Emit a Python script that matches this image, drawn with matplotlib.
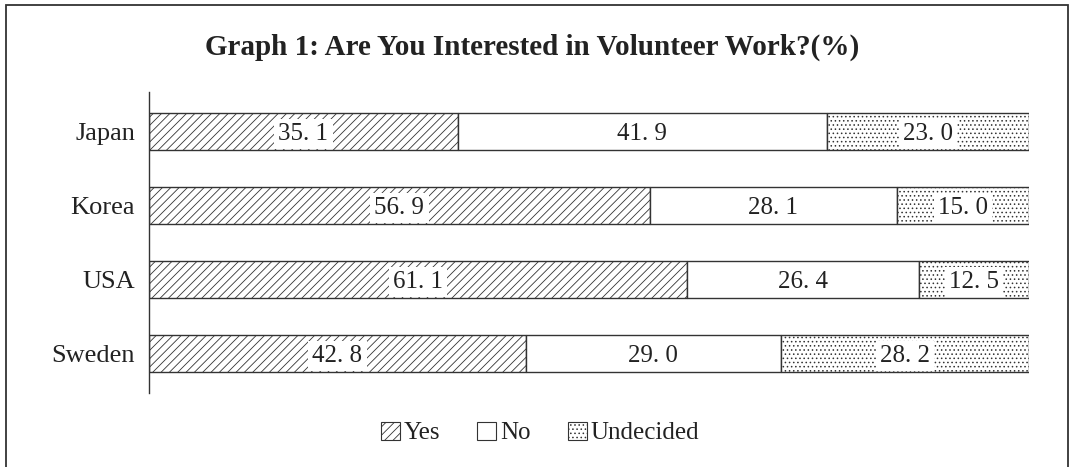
import matplotlib
matplotlib.use("Agg")
import matplotlib.pyplot as plt
from matplotlib.patches import Patch, Rectangle

countries = ["Japan", "Korea", "USA", "Sweden"]
yes = [35.1, 56.9, 61.1, 42.8]
no = [41.9, 28.1, 26.4, 29.0]
undecided = [23.0, 15.0, 12.5, 28.2]
series_names = ["Yes", "No", "Undecided"]
title = "Graph 1: Are You Interested in Volunteer Work?(%)"

plt.rcParams['font.family'] = ['Liberation Serif', 'DejaVu Serif']
plt.rcParams['hatch.linewidth'] = 0.6

fig = plt.figure(figsize=(10.74, 4.67), dpi=100)
ax = fig.add_axes([149/1074, 1-393/467, 880/1074, 301/467])

edge = '#333333'
hatches = ['////', '', '....']
series = [yes, no, undecided]
ypos = list(range(len(countries)))
left = [0.0] * len(countries)
for name, vals, h in zip(series_names, series, hatches):
    bars = ax.barh(ypos, vals, left=left, height=0.5, color='white',
                   edgecolor=edge, linewidth=1.0, hatch=h)
    for b, v in zip(bars, vals):
        cx = b.get_x() + b.get_width() / 2
        cy = b.get_y() + b.get_height() / 2
        ax.text(cx, cy, f"{v:.1f}".replace('.', '. '), ha='center',
                va='center_baseline', fontsize=18, color='#222222',
                bbox=dict(boxstyle='square,pad=0.17', fc='white', ec='none'))
    left = [l + v for l, v in zip(left, vals)]

ax.set_xlim(0, 100)
ax.set_ylim(3.534, -0.534)
ax.set_yticks(ypos)
ax.set_yticklabels(countries, fontsize=19, color='#222222')
ax.set_xticks([])
ax.tick_params(axis='y', length=0, pad=10)
for s in ['top', 'right', 'bottom']:
    ax.spines[s].set_visible(False)
ax.spines['left'].set_color(edge)
ax.spines['left'].set_linewidth(1.0)

fig.text(532/1074, 1-55/467, title, ha='center', va='baseline',
         fontsize=21, fontweight='bold', color='#222222')

handles = [Patch(facecolor='white', edgecolor=edge, hatch=h, linewidth=0.8)
           for h in hatches]
fig.legend(handles, series_names, loc='center', bbox_to_anchor=(540/1074, 1-433/467),
           ncol=3, frameon=False, fontsize=18, handlelength=0.75, handleheight=0.75,
           handletextpad=0.15, columnspacing=1.5, labelcolor='#222222')

fig.patches.append(Rectangle((6/1074, -0.05), 1062/1074, 1.05 - 5/467,
                             transform=fig.transFigure, fill=False,
                             edgecolor='#333333', linewidth=1.3))

fig.savefig("out.png", dpi=100)
